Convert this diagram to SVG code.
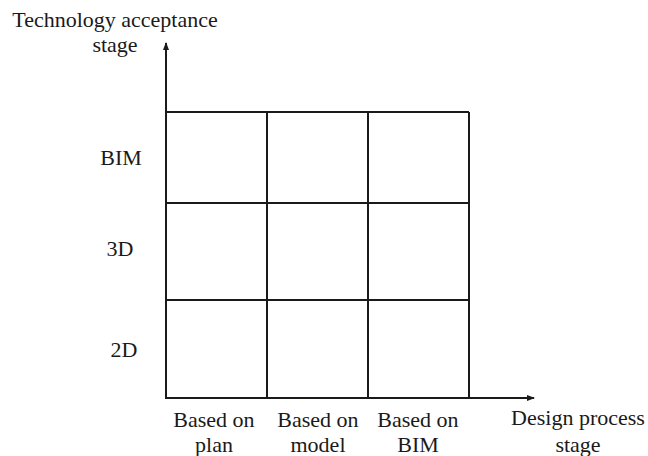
<svg xmlns="http://www.w3.org/2000/svg" width="648" height="456" viewBox="0 0 648 456">
<style>
text{font-family:"Liberation Serif","Times New Roman",serif;font-size:22px;fill:#1a1a1a;text-anchor:middle}
.ln{stroke:#1a1a1a;stroke-width:2;fill:none}
</style>
<defs>
<marker id="ah" markerWidth="8" markerHeight="6" refX="7" refY="3" orient="auto" markerUnits="userSpaceOnUse">
<path d="M0,0 L8,3 L0,6 Z" fill="#1a1a1a"/>
</marker>
</defs>
<rect width="648" height="456" fill="#fff"/>
<g id="connectors">
<line class="ln" x1="166" y1="398" x2="166" y2="43" marker-end="url(#ah)"/>
<line class="ln" x1="165" y1="398" x2="534" y2="398" marker-end="url(#ah)"/>
</g>
<g id="grid">
<line class="ln" x1="166" y1="112" x2="469" y2="112"/>
<line class="ln" x1="166" y1="203" x2="469" y2="203"/>
<line class="ln" x1="166" y1="300" x2="469" y2="300"/>
<line class="ln" x1="267" y1="112" x2="267" y2="398"/>
<line class="ln" x1="368" y1="112" x2="368" y2="398"/>
<line class="ln" x1="469" y1="112" x2="469" y2="398"/>
</g>
<g id="y-axis-label">
<text x="115" y="27">Technology acceptance</text>
<text x="115" y="52">stage</text>
</g>
<g id="x-axis-label">
<text x="578" y="425">Design process</text>
<text x="578" y="452">stage</text>
</g>
<g id="row-labels">
<text x="121" y="165">BIM</text>
<text x="120" y="256">3D</text>
<text x="124" y="357">2D</text>
</g>
<g id="col-labels">
<text x="214" y="427">Based on</text>
<text x="214" y="452">plan</text>
<text x="318" y="427">Based on</text>
<text x="318" y="452">model</text>
<text x="418" y="427">Based on</text>
<text x="418" y="452">BIM</text>
</g>
</svg>
